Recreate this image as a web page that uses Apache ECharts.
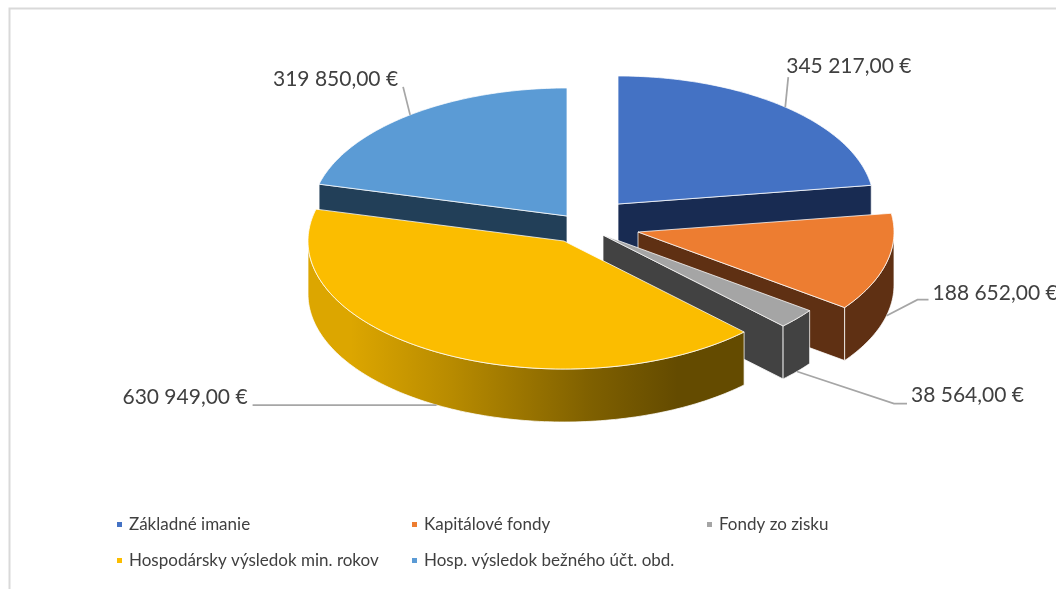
<!DOCTYPE html>
<html>
<head>
<meta charset="utf-8">
<style>html,body{margin:0;padding:0;background:#fff}#c{width:1056px;height:589px}</style>
<script src="https://cdn.jsdelivr.net/npm/echarts@6/dist/echarts.min.js"></script>
</head>
<body>
<div id="c"></div>
<script>
const categories = ['Základné imanie', 'Kapitálové fondy', 'Fondy zo zisku', 'Hospodársky výsledok min. rokov', 'Hosp. výsledok bežného účt. obd.'];
const values = [345217, 188652, 38564, 630949, 319850];

// styling and layout, kept apart from the data
const topColors = ['#4472C4', '#ED7D31', '#A5A5A5', '#FBBD00', '#5B9BD5'];
const wallColors = ['#182B52', '#5F3013', '#424242', null, '#223F58'];
const apexes = [[618, 204], [638, 232], [603, 235], [564, 241], [567, 216]];
const RX = 256, RY = 128, DEPTH = 53;
const drawOrder = [4, 0, 1, 2, 3];
// leader: offsets from the slice's mid-edge point; text: offset from the last leader point
const leaders = [
  { pts: [[3, -30]], text: [-2, -11], align: 'left' },
  { pts: [[31, -16], [42, -16]], text: [4, -6], align: 'left' },
  { pts: [[97, 32], [110, 32]], text: [4, -8], align: 'left' },
  { pts: [[-184, 0]], text: [-5, -8], align: 'right' },
  { pts: [[-7, -28]], text: [-5, -8], align: 'right' }
];
const legendPos = [[117, 515], [412, 515], [707, 515], [117, 551], [412, 551]];

const total = values.reduce((a, b) => a + b, 0);
const starts = [];
values.reduce((acc, v, i) => { starts[i] = acc; return acc + v / total * 2 * Math.PI; }, 0);

function fmt(v) {
  return String(v).replace(/\B(?=(\d{3})+$)/g, ' ') + ',00 €';
}
function pt(apex, a, dz) {
  return [apex[0] + RX * Math.sin(a), apex[1] - RY * Math.cos(a) + (dz || 0)];
}
function arc(apex, a0, a1, dz) {
  const n = Math.max(2, Math.ceil(Math.abs(a1 - a0) / 0.02));
  const out = [];
  for (let k = 0; k <= n; k++) out.push(pt(apex, a0 + (a1 - a0) * k / n, dz));
  return out;
}
const edge = { stroke: 'rgba(255,255,255,0.75)', lineWidth: 1 };

function makeRender(i) {
  return function (params, api) {
    const v = api.value(0);
    const a0 = starts[i], a1 = a0 + v / total * 2 * Math.PI;
    const apex = apexes[i];
    const fill = wallColors[i] || new echarts.graphic.LinearGradient(307, 0, 743, 0, [
      { offset: 0, color: '#DCA600' }, { offset: 0.1, color: '#DCA600' },
      { offset: 0.33, color: '#B88B00' }, { offset: 0.65, color: '#7F6000' },
      { offset: 0.85, color: '#644B00' }, { offset: 1, color: '#644B00' }
    ], true);
    const kids = [];
    const wall = pts => kids.push({ type: 'polygon', shape: { points: pts },
      style: Object.assign({ fill: fill }, edge) });
    const apexLow = [apex[0], apex[1] + DEPTH];
    // side face at the end angle or start angle, when it turns to the viewer
    if (a1 > 0 && a1 < Math.PI) {
      wall([apex, pt(apex, a1), pt(apex, a1, DEPTH), apexLow]);
    }
    if (a0 > Math.PI && a0 < 2 * Math.PI) {
      wall([apex, pt(apex, a0), pt(apex, a0, DEPTH), apexLow]);
    }
    // outer rim: only the front half of the ellipse is visible
    const r0 = Math.max(a0, Math.PI / 2), r1 = Math.min(a1, 3 * Math.PI / 2);
    if (r1 > r0) {
      wall(arc(apex, r0, r1, 0).concat(arc(apex, r1, r0, DEPTH)));
    }
    // top
    kids.push({ type: 'polygon', shape: { points: [apex].concat(arc(apex, a0, a1, 0)) },
      style: Object.assign({ fill: topColors[i] }, edge) });
    // leader and value label
    const mid = (a0 + a1) / 2;
    const front = Math.cos(mid) < 0;
    const anchor = pt(apex, mid, front ? DEPTH : 0);
    const lead = leaders[i];
    const line = [anchor].concat(lead.pts.map(o => [anchor[0] + o[0], anchor[1] + o[1]]));
    kids.push({ type: 'polyline', shape: { points: line },
      style: { fill: 'none', stroke: '#A6A6A6', lineWidth: 1.75 } });
    const last = line[line.length - 1];
    kids.push({ type: 'text', style: {
      x: last[0] + lead.text[0], y: last[1] + lead.text[1], text: fmt(v),
      fill: '#404040', font: '21px Lato', align: lead.align, verticalAlign: 'middle' } });
    return { type: 'group', children: kids };
  };
}

const series = drawOrder.map((i, order) => ({
  type: 'custom',
  name: categories[i],
  coordinateSystem: 'none',
  z: 2 + order,
  silent: true,
  clip: false,
  itemStyle: { color: topColors[i] },
  data: [[values[i]]],
  renderItem: makeRender(i)
}));

const legends = categories.map((name, i) => ({
  data: [name],
  left: legendPos[i][0],
  top: legendPos[i][1] + 1,
  orient: 'horizontal',
  icon: 'rect',
  itemWidth: 5,
  itemHeight: 5,
  itemGap: 0,
  padding: 0,
  selectedMode: false,
  textStyle: { color: '#404040', fontFamily: 'Lato', fontSize: 17, padding: [0, 0, 0, 2] }
}));

const chart = echarts.init(document.getElementById('c'), null, { renderer: 'canvas' });
chart.setOption({
  animation: false,
  backgroundColor: '#fff',
  legend: legends,
  graphic: [{
    type: 'polyline', z: 0, silent: true,
    shape: { points: [[9.5, 589], [9.5, 8.5], [1056, 8.5]] },
    style: { fill: 'none', stroke: '#D9D9D9', lineWidth: 2 }
  }],
  series: series
});
</script>
</body>
</html>
